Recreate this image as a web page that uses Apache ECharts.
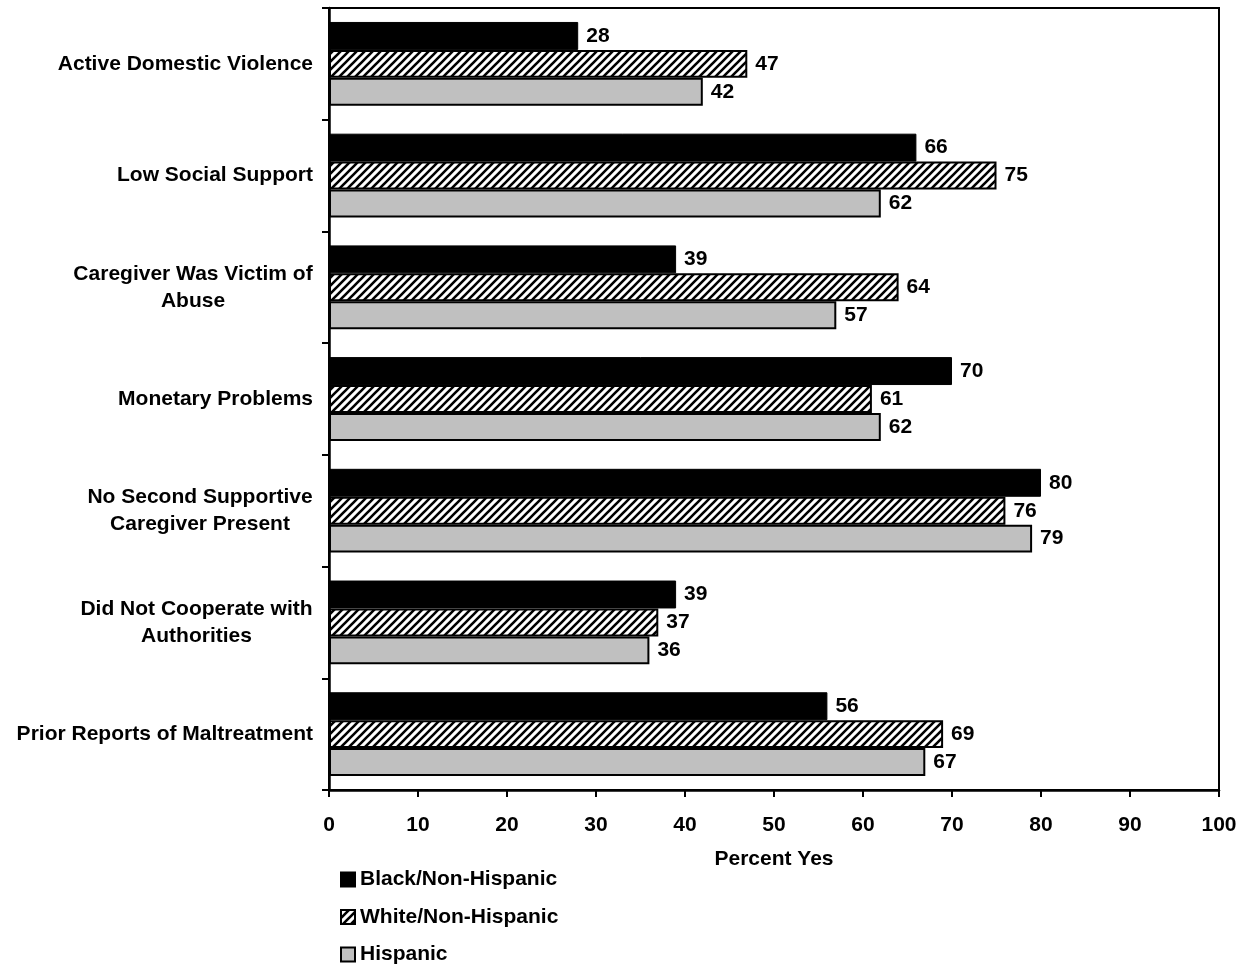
<!DOCTYPE html>
<html>
<head>
<meta charset="utf-8">
<script src="https://cdn.jsdelivr.net/npm/echarts@6/dist/echarts.min.js"></script>
<style>
  html, body { margin: 0; padding: 0; background: #fff; }
  #chart { width: 1245px; height: 966px; }
</style>
</head>
<body>
<div id="chart"></div>
<script>
// Risk factors, top to bottom
const categories = [
  'Active Domestic Violence',
  'Low Social Support',
  'Caregiver Was Victim of\nAbuse',
  'Monetary Problems',
  'No Second Supportive\nCaregiver Present',
  'Did Not Cooperate with\nAuthorities',
  'Prior Reports of Maltreatment'
];
const seriesNames = ['Black/Non-Hispanic', 'White/Non-Hispanic', 'Hispanic'];
const blackNonHispanic = [28, 66, 39, 70, 80, 39, 56];
const whiteNonHispanic = [47, 75, 64, 61, 76, 37, 69];
const hispanic = [42, 62, 57, 62, 79, 36, 67];
const xTicks = [0, 10, 20, 30, 40, 50, 60, 70, 80, 90, 100];

const FONT = '"Liberation Sans", Arial, sans-serif';
const LABEL_SIZE = 21;

// Diagonal hatch fill for the second series
function makeHatch() {
  const s = 8;
  const c = document.createElement('canvas');
  c.width = s; c.height = s;
  const g = c.getContext('2d');
  g.fillStyle = '#fff';
  g.fillRect(0, 0, s, s);
  g.strokeStyle = '#000';
  g.lineWidth = 2.6;
  g.beginPath();
  g.moveTo(-1, s + 1); g.lineTo(s + 1, -1);
  g.moveTo(-1, 1); g.lineTo(1, -1);
  g.moveTo(s - 1, s + 1); g.lineTo(s + 1, s - 1);
  g.stroke();
  return { image: c, repeat: 'repeat' };
}
const hatch = makeHatch();

// Multi-line category labels: lines centred within the block, block right-aligned
const measure = document.createElement('canvas').getContext('2d');
measure.font = 'bold ' + LABEL_SIZE + 'px ' + FONT;
const rich = {};
const catLabelFormatter = (value, idx) => {
  const lines = value.split('\n');
  if (lines.length === 1) return value;
  const key = 'c' + idx;
  if (!rich[key]) {
    const w = Math.max(...lines.map(l => measure.measureText(l).width));
    rich[key] = { width: Math.ceil(w), align: 'center', fontWeight: 'bold',
      fontSize: LABEL_SIZE, fontFamily: FONT, color: '#000', lineHeight: 27 };
  }
  return lines.map(l => '{' + key + '|' + l + '}').join('\n');
};
categories.forEach((c, i) => catLabelFormatter(c, i));

const valueLabel = {
  show: true, position: 'right', distance: 8,
  color: '#000', fontWeight: 'bold', fontSize: LABEL_SIZE, fontFamily: FONT
};

const chart = echarts.init(document.getElementById('chart'), null, { renderer: 'canvas' });
chart.setOption({
  backgroundColor: '#fff',
  animation: false,
  textStyle: { fontFamily: FONT },
  grid: {
    left: 329, right: 26, top: 8, bottom: 176,
    show: true, borderColor: '#000', borderWidth: 2, backgroundColor: 'transparent'
  },
  legend: {
    orient: 'vertical', left: 340, top: 869, padding: 0,
    itemWidth: 14, itemHeight: 14, itemGap: 16.5,
    textStyle: { fontWeight: 'bold', fontSize: LABEL_SIZE, fontFamily: FONT, color: '#000' },
    data: seriesNames.map(n => ({ name: n, icon: 'rect' }))
  },
  xAxis: {
    type: 'value', min: 0, max: 100, interval: 10,
    name: 'Percent Yes', nameLocation: 'middle', nameGap: 59,
    nameTextStyle: { fontWeight: 'bold', fontSize: LABEL_SIZE, fontFamily: FONT, color: '#000' },
    axisLine: { show: true, lineStyle: { color: '#000', width: 2.5 } },
    axisTick: { show: true, length: 7, lineStyle: { color: '#000', width: 2 } },
    axisLabel: { fontWeight: 'bold', fontSize: LABEL_SIZE, fontFamily: FONT, color: '#000', margin: 25,
      formatter: v => xTicks.includes(v) ? String(v) : '' },
    splitLine: { show: false }
  },
  yAxis: {
    type: 'category', inverse: true, data: categories,
    axisLine: { show: true, lineStyle: { color: '#000', width: 2.5 } },
    axisTick: { show: true, length: 7, alignWithLabel: false, lineStyle: { color: '#000', width: 2 } },
    axisLabel: { fontWeight: 'bold', fontSize: LABEL_SIZE, fontFamily: FONT, color: '#000',
      margin: 16, lineHeight: 27, align: 'right', formatter: catLabelFormatter, rich: rich },
    splitLine: { show: false }
  },
  series: [
    {
      name: seriesNames[0], type: 'bar', data: blackNonHispanic,
      barCategoryGap: '25%', barGap: '0%',
      itemStyle: { color: '#000', borderColor: '#000', borderWidth: 1 },
      label: valueLabel
    },
    {
      name: seriesNames[1], type: 'bar', data: whiteNonHispanic,
      barCategoryGap: '25%', barGap: '0%',
      itemStyle: { color: hatch, borderColor: '#000', borderWidth: 2 },
      label: valueLabel
    },
    {
      name: seriesNames[2], type: 'bar', data: hispanic,
      barCategoryGap: '25%', barGap: '0%',
      itemStyle: { color: '#c0c0c0', borderColor: '#000', borderWidth: 2 },
      label: valueLabel
    }
  ]
});
</script>
</body>
</html>
